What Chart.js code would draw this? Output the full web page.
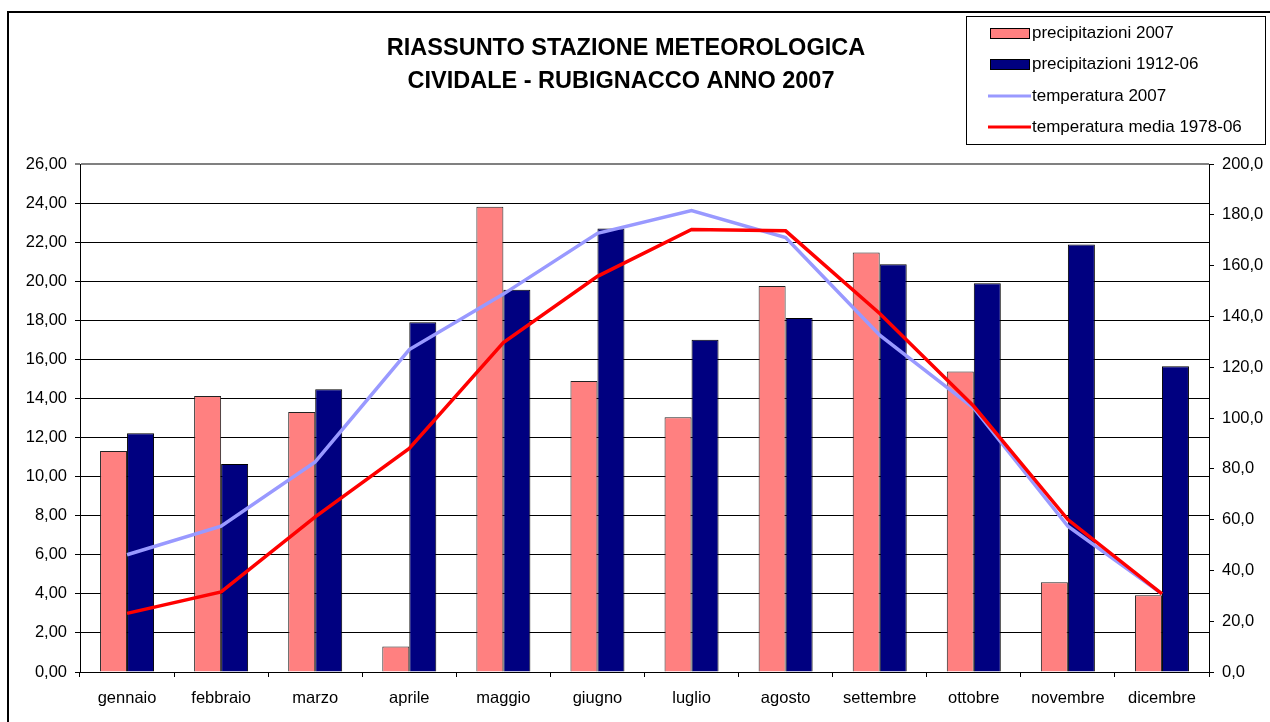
<!DOCTYPE html>
<html>
<head>
<meta charset="utf-8">
<script src="https://cdn.jsdelivr.net/npm/chart.js@4.4.0/dist/chart.umd.min.js"></script>
<style>
html,body{margin:0;padding:0;background:#fff;}
canvas{display:block;}
</style>
</head>
<body>
<canvas id="c" width="1270" height="722"></canvas>
<script>
const months = ['gennaio','febbraio','marzo','aprile','maggio','giugno','luglio','agosto','settembre','ottobre','novembre','dicembre'];
const precip2007 = [87.0,108.7,102.4,10.0,183.2,114.6,100.3,152.0,165.2,118.3,35.3,30.2];
const precip1912 = [94.0,81.9,111.3,137.7,150.5,174.6,130.8,139.4,160.5,153.1,168.3,120.4];
const temp2007 = [6.0,7.46,10.75,16.5,19.34,22.45,23.62,22.24,17.24,13.5,7.46,4.0];
const tempMedia = [3.0,4.1,7.94,11.44,16.86,20.25,22.65,22.58,18.35,13.6,7.8,4.0];
const titleLines = ['RIASSUNTO STAZIONE METEOROLOGICA','CIVIDALE - RUBIGNACCO ANNO 2007'];

const FONT = '"Liberation Sans", Arial, sans-serif';

const decorPlugin = {
  id: 'decor',
  beforeDraw(chart) {
    const ctx = chart.ctx;
    ctx.save();
    ctx.fillStyle = '#fff';
    ctx.fillRect(0, 0, chart.width, chart.height);
    ctx.strokeStyle = '#000';
    ctx.lineWidth = 2;
    ctx.strokeRect(8, 12, 1400, 900);
    ctx.restore();
  },
  afterDraw(chart) {
    const ctx = chart.ctx;
    ctx.save();
    // title
    ctx.fillStyle = '#000';
    ctx.font = 'bold 23.5px ' + FONT;
    ctx.textAlign = 'center';
    ctx.textBaseline = 'middle';
    ctx.fillText(titleLines[0], 626, 49);
    ctx.fillText(titleLines[1], 621, 82);
    // legend
    ctx.fillStyle = '#fff';
    ctx.fillRect(966, 16, 299, 128);
    ctx.strokeStyle = '#000';
    ctx.lineWidth = 1;
    ctx.strokeRect(966.5, 16.5, 299, 128);
    const ys = [33, 64, 96, 127];
    const order = [0, 1, 2, 3];
    ctx.font = '17px ' + FONT;
    ctx.textAlign = 'left';
    ctx.textBaseline = 'middle';
    order.forEach((di, i) => {
      const ds = chart.data.datasets[di];
      const y = ys[i];
      if (ds.type === 'line') {
        ctx.strokeStyle = ds.borderColor;
        ctx.lineWidth = 3;
        ctx.beginPath();
        ctx.moveTo(988, y);
        ctx.lineTo(1031, y);
        ctx.stroke();
      } else {
        ctx.fillStyle = ds.backgroundColor;
        ctx.fillRect(990, y - 5, 39, 10);
        ctx.strokeStyle = '#000';
        ctx.lineWidth = 1;
        ctx.strokeRect(990.5, y - 4.5, 39, 10);
      }
      ctx.fillStyle = '#000';
      ctx.fillText(ds.label, 1032, y);
    });
    ctx.restore();
  }
};

const fmt2 = v => Number(v).toFixed(2).replace('.', ',');
const fmt1 = v => Number(v).toFixed(1).replace('.', ',');

new Chart(document.getElementById('c'), {
  type: 'bar',
  data: {
    labels: months,
    datasets: [
      { type: 'bar', label: 'precipitazioni 2007', data: precip2007, yAxisID: 'yR',
        backgroundColor: '#FF8080', borderColor: '#222', borderWidth: 1, order: 3,
        categoryPercentage: 0.574, barPercentage: 1.0 },
      { type: 'bar', label: 'precipitazioni 1912-06', data: precip1912, yAxisID: 'yR',
        backgroundColor: '#000080', borderColor: '#000', borderWidth: 1, order: 3,
        categoryPercentage: 0.574, barPercentage: 1.0 },
      { type: 'line', label: 'temperatura 2007', data: temp2007, yAxisID: 'yL',
        borderColor: '#9999FF', backgroundColor: '#9999FF', borderWidth: 3.5, pointRadius: 0,
        tension: 0, fill: false, order: 1 },
      { type: 'line', label: 'temperatura media 1978-06', data: tempMedia, yAxisID: 'yL',
        borderColor: '#FF0000', backgroundColor: '#FF0000', borderWidth: 3.5, pointRadius: 0,
        tension: 0, fill: false, order: 0 }
    ]
  },
  options: {
    responsive: false,
    maintainAspectRatio: false,
    animation: false,
    layout: { padding: { top: 164, left: 8, right: 0, bottom: 0 } },
    plugins: {
      legend: { display: false },
      title: { display: false },
      tooltip: { enabled: false }
    },
    scales: {
      x: {
        offset: true,
        afterFit(s) { s.height = 50; },
        grid: { drawOnChartArea: false, drawTicks: true, tickLength: 5, color: '#000', offset: true },
        border: { display: true, color: '#000', width: 1 },
        ticks: { color: '#000', font: { family: FONT, size: 16.5 }, padding: 12, maxRotation: 0, autoSkip: false }
      },
      yL: {
        position: 'left',
        min: 0, max: 26,
        afterFit(s) { s.width = 72; },
        grid: {
          drawOnChartArea: true, drawTicks: true, tickLength: 5,
          color: ctx => (ctx.tick && ctx.tick.value === 26) ? '#808080' : '#000',
          lineWidth: ctx => (ctx.tick && ctx.tick.value === 26) ? 2 : 1
        },
        border: { display: true, color: '#000', width: 1 },
        ticks: { stepSize: 2, color: '#000', font: { family: FONT, size: 16.5 }, padding: 8,
          callback: v => fmt2(v) }
      },
      yR: {
        position: 'right',
        min: 0, max: 200,
        afterFit(s) { s.width = 61; },
        grid: { drawOnChartArea: false, drawTicks: true, tickLength: 5, color: '#000' },
        border: { display: true, color: '#000', width: 1 },
        ticks: { stepSize: 20, color: '#000', font: { family: FONT, size: 16.5 }, padding: 8,
          callback: v => fmt1(v) }
      }
    }
  },
  plugins: [decorPlugin]
});
</script>
</body>
</html>
